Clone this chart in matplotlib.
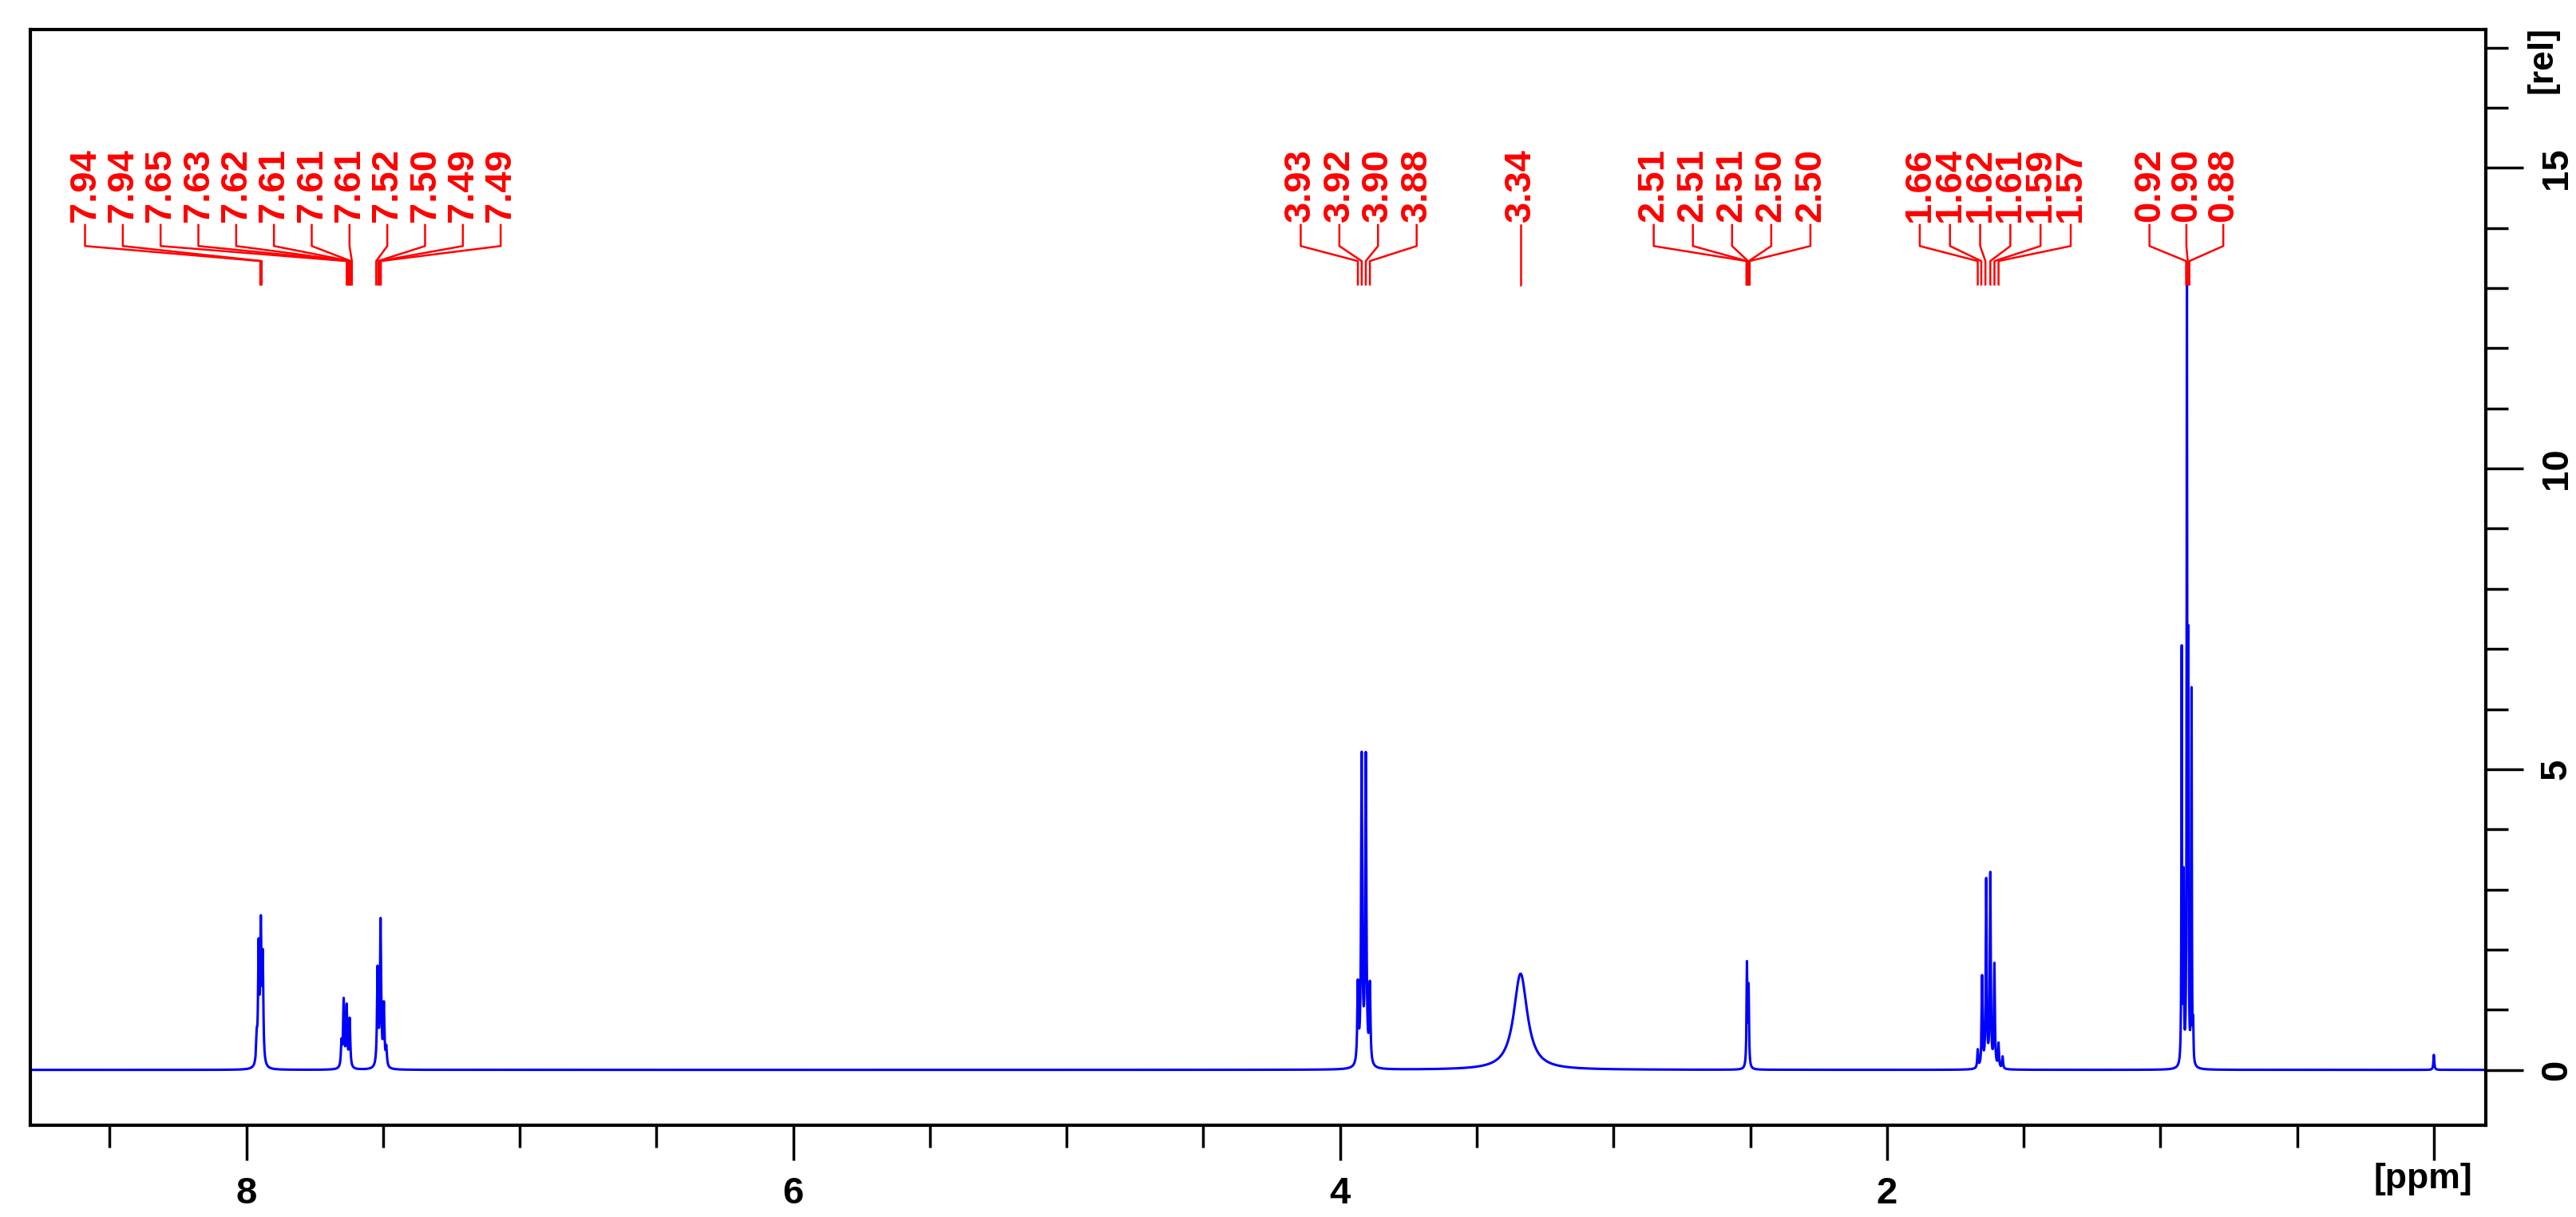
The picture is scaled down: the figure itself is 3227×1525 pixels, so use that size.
import numpy as np
import matplotlib
matplotlib.use("Agg")
import matplotlib.pyplot as plt

# peak list: position (ppm), height (rel), half-width (ppm)
peak_ppm = [7.962, 7.955, 7.947, 7.940,
            7.652, 7.644, 7.633, 7.622,
            7.520, 7.509, 7.497, 7.488,
            3.935, 3.921, 3.906, 3.891,
            3.34,
            2.512, 2.506,
            1.668, 1.652, 1.637, 1.622, 1.607, 1.592, 1.577,
            0.922, 0.915, 0.903, 0.898, 0.886, 0.880,
            0.0]
peak_h = [0.4, 1.9, 2.2, 1.7,
          0.4, 1.1, 1.0, 0.8,
          1.6, 2.4, 1.0, 0.3,
          1.3, 5.1, 5.1, 1.3,
          1.6,
          1.7, 1.3,
          0.3, 1.5, 3.1, 3.2, 1.7, 0.4, 0.2,
          6.9, 3.0, 12.8, 6.6, 6.2, 0.6,
          0.25]
peak_w = [0.0025]*16 + [0.03] + [0.0018]*2 + [0.002]*7 + [0.0012]*6 + [0.002]

# assignment labels
groups_labels = [
    ["7.94", "7.94", "7.65", "7.63", "7.62", "7.61", "7.61", "7.61", "7.52", "7.50", "7.49", "7.49"],
    ["3.93", "3.92", "3.90", "3.88"],
    ["3.34"],
    ["2.51", "2.51", "2.51", "2.50", "2.50"],
    ["1.66", "1.64", "1.62", "1.61", "1.59", "1.57"],
    ["0.92", "0.90", "0.88"],
]
groups_label_x = [(8.59, 7.07), (4.144, 3.72), (3.34, 3.34), (2.853, 2.28), (1.88, 1.328), (1.04, 0.77)]
groups_peak_x = [
    [7.949, 7.944, 7.633, 7.628, 7.624, 7.621, 7.618, 7.614, 7.525, 7.518, 7.513, 7.508],
    [3.935, 3.921, 3.906, 3.891],
    [3.34],
    [2.514, 2.511, 2.508, 2.505, 2.502],
    [1.668, 1.655, 1.640, 1.622, 1.607, 1.592],
    [0.906, 0.900, 0.894],
]
x_ticks = [0, 2, 4, 6, 8]
x_ticklabels = ["", "2", "4", "6", "8"]

x = np.linspace(-0.2, 8.8, 300000)
y = np.zeros_like(x)
for p, h, w in zip(peak_ppm, peak_h, peak_w):
    y += h / (1 + ((x - p) / w) ** 2)

fig = plt.figure(figsize=(32.27, 15.25), dpi=100)
ax = fig.add_axes([38/3227, 1-1410/1525, (3114-38)/3227, (1410-37)/1525])
ax.plot(x, y, color="#0000ff", lw=2.2)
ax.set_xlim(8.79, -0.19)
ax.set_ylim(-0.92, 17.3)

red = "#ff0000"
for labs, (lx0, lx1), px in zip(groups_labels, groups_label_x, groups_peak_x):
    lxs = np.linspace(lx0, lx1, len(labs)) if len(labs) > 1 else [lx0]
    for lab, lx, pk in zip(labs, lxs, px):
        ax.text(lx, 14.1, lab, rotation=90, color=red, ha="center", va="bottom",
                fontsize=34, fontweight="bold", family="Liberation Sans")
        ax.plot([lx, lx, pk, pk], [14.05, 13.7, 13.45, 13.06], color=red, lw=1.8)

for s in ["top", "right", "left", "bottom"]:
    ax.spines[s].set_linewidth(3)
ax.yaxis.tick_right()
ax.set_yticks([0, 5, 10, 15])
ax.set_yticks(np.arange(0, 18, 1), minor=True)
ax.set_xticks(x_ticks)
ax.set_xticklabels(x_ticklabels)
ax.set_xticks(np.arange(0, 9, 0.5), minor=True)
ax.tick_params(axis="x", which="major", length=32, width=2.5, labelsize=34, pad=14)
ax.tick_params(axis="x", which="minor", length=20, width=2.5)
ax.tick_params(axis="y", which="major", length=34, width=2.5, labelsize=34, pad=14, labelrotation=90)
ax.tick_params(axis="y", which="minor", length=20, width=2.5)
for lab in ax.get_xticklabels() + ax.get_yticklabels():
    lab.set_fontweight("bold")
    lab.set_family("Liberation Sans")
for lab in ax.get_yticklabels():
    lab.set_va("center")
fig.text(3185/3227, 1-75/1525, "[rel]", rotation=90, ha="center", va="center",
         fontsize=32, fontweight="bold", family="Liberation Sans")
fig.text(3035/3227, 1-1478/1525, "[ppm]", ha="center", va="center",
         fontsize=32, fontweight="bold", family="Liberation Sans")
fig.savefig("out.png", dpi=100)
